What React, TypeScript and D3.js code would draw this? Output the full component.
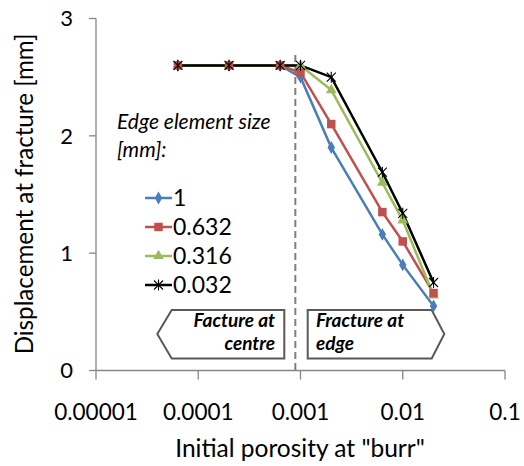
import React from "react";
import * as d3 from "d3";

const porosity = [0.0000632, 0.0002, 0.000632, 0.001, 0.002, 0.00632, 0.01, 0.02];
const seriesNames = ["1", "0.632", "0.316", "0.032"];
const size1 = [2.6, 2.6, 2.6, 2.5, 1.9, 1.16, 0.9, 0.55];
const size0632 = [2.6, 2.6, 2.6, 2.54, 2.1, 1.35, 1.1, 0.66];
const size0316 = [2.6, 2.6, 2.6, 2.6, 2.39, 1.6, 1.28, 0.64];
const size0032 = [2.6, 2.6, 2.6, 2.6, 2.5, 1.69, 1.34, 0.75];
const xTicks = [0.00001, 0.0001, 0.001, 0.01, 0.1];
const xTickLabels = ["0.00001", "0.0001", "0.001", "0.01", "0.1"];
const yTicks = [0, 1, 2, 3];
const boundary = 0.00089;

const colors = ["#4A7EBB", "#C0504D", "#9BBB59", "#000000"];
const markers = ["diamond", "square", "triangle", "star"];
const markerOrder = [0, 2, 1, 3];

const FONT = "Lato, 'Open Sans', sans-serif";

function Marker({ kind, x, y, color }: { kind: string; x: number; y: number; color: string }) {
  if (kind === "star") {
    const r = 4.5;
    return (
      <g transform={`translate(${x},${y})`} stroke={color} strokeWidth={1.1} fill="none">
        <line x1={-r} y1={-r} x2={r} y2={r} />
        <line x1={-r} y1={r} x2={r} y2={-r} />
        <line x1={0} y1={-r - 1} x2={0} y2={r + 1} />
      </g>
    );
  }
  const type = kind === "diamond" ? d3.symbolDiamond : kind === "square" ? d3.symbolSquare : d3.symbolTriangle;
  const sz = kind === "diamond" ? 48 : kind === "square" ? 72 : 50;
  const path = d3.symbol().type(type).size(sz)() as string;
  return <path d={path} transform={`translate(${x},${y})`} fill={color} stroke="none" />;
}

export default function App() {
  const x = d3.scaleLog().domain([0.00001, 0.1]).range([96, 505]);
  const y = d3.scaleLinear().domain([0, 3]).range([370.5, 18.5]);
  const series = [size1, size0632, size0316, size0032];
  const line = d3
    .line<number>()
    .x((_, i) => x(porosity[i]))
    .y((d) => y(d));

  const axisColor = "#868686";
  const legendY = [198, 227, 256, 285];

  return (
    <svg width={524} height={466} style={{ position: "absolute", left: 0, top: 0, background: "#fff" }} fontFamily={FONT}>
      <rect x={0} y={0} width={524} height={466} fill="#fff" />
      {/* axes */}
      <line x1={96} y1={y(3)} x2={96} y2={y(0)} stroke={axisColor} strokeWidth={1.3} />
      {yTicks.map((t) => (
        <g key={t}>
          <line x1={89} x2={96} y1={y(t)} y2={y(t)} stroke={axisColor} strokeWidth={1.3} />
          <text x={73} y={y(t)} dy="0.35em" textAnchor="end" fontSize={22} fill="#000">
            {t}
          </text>
        </g>
      ))}
      <line x1={96} y1={y(0)} x2={505} y2={y(0)} stroke={axisColor} strokeWidth={1.3} />
      {xTicks.map((t, i) => (
        <g key={t}>
          <line x1={x(t)} x2={x(t)} y1={y(0)} y2={y(0) + 9} stroke={axisColor} strokeWidth={1.3} />
          <text x={x(t)} y={420} textAnchor="middle" fontSize={22.5} fill="#000">
            {xTickLabels[i]}
          </text>
        </g>
      ))}
      <text x={300} y={457} textAnchor="middle" fontSize={24.5} fill="#000">
        Initial porosity at "burr"
      </text>
      <text transform="translate(33,194) rotate(-90)" textAnchor="middle" fontSize={24.2} fill="#000">
        Displacement at fracture [mm]
      </text>

      {/* boundary */}
      <line x1={x(boundary)} x2={x(boundary)} y1={55} y2={y(0)} stroke="#7F7F7F" strokeWidth={2} strokeDasharray="7,4" />

      {/* callouts */}
      <path d="M157.3,334 L171.7,310 L284.3,310 L284.3,358.5 L171.7,358.5 Z" fill="#fff" stroke="#595959" strokeWidth={2} />
      <path d="M307.7,310 L431.7,310 L444.3,334 L431.7,358.5 L307.7,358.5 Z" fill="#fff" stroke="#595959" strokeWidth={2} />
      <g fontSize={19} fontWeight="bold" fontStyle="italic" fill="#000">
        <text x={275} y={327} textAnchor="end">Facture at</text>
        <text x={275} y={350} textAnchor="end">centre</text>
        <text x={316} y={327}>Fracture at</text>
        <text x={316} y={350}>edge</text>
      </g>

      {/* series lines */}
      {series.map((s, si) => (
        <path key={si} d={line(s) as string} fill="none" stroke={colors[si]} strokeWidth={2.5} />
      ))}
      {/* series markers */}
      {markerOrder.map((si) => (
        <g key={si}>
          {series[si].map((v, i) => (
            <Marker key={i} kind={markers[si]} x={x(porosity[i])} y={y(v)} color={colors[si]} />
          ))}
        </g>
      ))}

      {/* legend */}
      <g fontStyle="italic" fontSize={21} fill="#000">
        <text x={117} y={129}>Edge element size</text>
        <text x={117} y={157}>[mm]:</text>
      </g>
      {seriesNames.map((n, i) => (
        <g key={n}>
          <line x1={145} x2={172} y1={legendY[i]} y2={legendY[i]} stroke={colors[i]} strokeWidth={2.5} />
          <Marker kind={markers[i]} x={158.5} y={legendY[i]} color={colors[i]} />
          <text x={173} y={legendY[i]} dy="0.35em" fontSize={23} fill="#000">
            {n}
          </text>
        </g>
      ))}
    </svg>
  );
}
